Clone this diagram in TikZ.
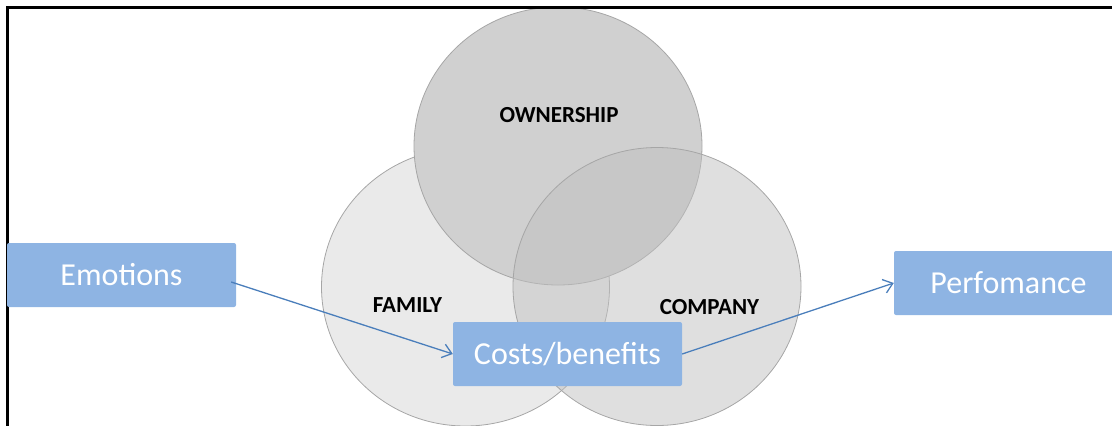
\documentclass[tikz,border=0pt]{standalone}
\usepackage{fontspec}
\setmainfont{Carlito}
\usetikzlibrary{arrows.meta}
\definecolor{fbBlue}{HTML}{8EB4E3}
\definecolor{fbLine}{HTML}{4A7EBB}
\definecolor{fbRim}{HTML}{A6A6A6}
\definecolor{fbFamily}{HTML}{EAEAEA}
\definecolor{fbOwner}{HTML}{D0D0D0}
\definecolor{fbCompany}{HTML}{C0C0C0}
\tikzset{
  fbring/.style={draw=fbRim,line width=0.8pt},
  fbbox/.style={rectangle,rounded corners=2pt,fill=fbBlue,text=white,
                minimum width=229pt,minimum height=64pt,inner sep=0pt,
                font=\fontsize{32}{36}\selectfont,text height=21pt,text depth=0pt},
  fbarrow/.style={-{Straight Barb[length=9pt,width=14pt]},line width=1.3pt,fbLine},
  fblabel/.style={font=\bfseries\fontsize{23}{26}\selectfont,
                  inner sep=0pt,text height=15pt,text depth=0pt}
}

\begin{document}
\begin{tikzpicture}[x=1pt,y=-1pt]
    \clip (0,0) rectangle (1112,426);

    % the three overlapping sets
    \fill[fbFamily,fbring] (465.5,287) ellipse [x radius=144pt,y radius=139pt];
    \fill[fbOwner,fbring] (558,146) ellipse [x radius=144pt,y radius=139pt];
    \filldraw[fill=fbCompany,fill opacity=0.5,fbring]
      (657,286.5) ellipse [x radius=144pt,y radius=139pt];

    \node[fblabel] (owner) at (559,115) {OWNERSHIP};
    \node[fblabel] (family) at (407.5,304.5) {FAMILY};
    \node[fblabel] (company) at (709.5,306.5) {COMPANY};

    % frame
    \draw[line width=3pt] (7,426) -- (7,7) -- (1112,7);

    \node[fbbox] (emo) at (121.5,275) {Emotions};
    \node[fbbox] (cost) at (567.5,354) {Costs/benefits};
    \node[fbbox] (perf) at (1008.5,283) {Perfomance};

    \draw[fbarrow] ([xshift=-5pt,yshift=-7pt]emo.east) -- (cost.west);
    \draw[fbarrow] (cost.east) -- (perf.west);
  \end{tikzpicture}
\end{document}
